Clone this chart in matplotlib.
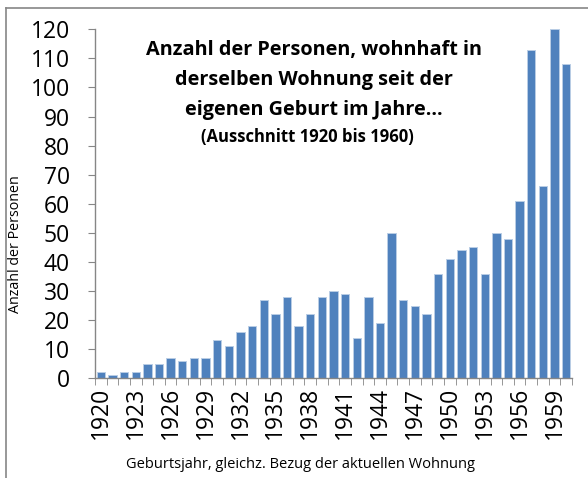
import matplotlib
matplotlib.use("Agg")
import matplotlib.pyplot as plt
from matplotlib.lines import Line2D

years = list(range(1920, 1961))
persons = [2, 1, 2, 2, 5, 5, 7, 6, 7, 7,
           13, 11, 16, 18, 27, 22, 28, 18, 22, 28,
           30, 29, 14, 28, 19, 50, 27, 25, 22, 36,
           41, 44, 45, 36, 50, 48, 61, 113, 66, 120,
           108]
label_years = years[::3]

title_lines = ["Anzahl der Personen, wohnhaft in",
               "derselben Wohnung seit der",
               "eigenen Geburt im Jahre..."]
subtitle = "(Ausschnitt 1920 bis 1960)"

plt.rcParams["font.family"] = ["Open Sans", "DejaVu Sans"]

W, H = 588, 478
fig = plt.figure(figsize=(W / 100, H / 100), dpi=100)
ax = fig.add_axes([95 / W, 1 - 378.3 / H, (572 - 95) / W, (378.3 - 29.3) / H])

pos = list(range(len(years)))
ax.bar(pos, persons, width=0.72, color="#4f81bd", edgecolor="#b9cde5", linewidth=0.7)

ax.set_xlim(-0.5, len(years) - 0.5)
ax.set_ylim(0, 120)
ax.set_yticks(range(0, 121, 10))
ax.tick_params(axis="y", labelsize=16.5, length=5, color="#868686", pad=13)

ax.set_xticks([years.index(y) for y in label_years])
ax.set_xticklabels([str(y) for y in label_years], rotation=90, fontsize=16.5)
ax.set_xticks([p - 0.5 for p in pos] + [len(years) - 0.5], minor=True)
ax.tick_params(axis="x", which="major", length=0, pad=6)
ax.tick_params(axis="x", which="minor", length=5, color="#868686")

for s in ["top", "right"]:
    ax.spines[s].set_visible(False)
for s in ["left", "bottom"]:
    ax.spines[s].set_color("#868686")
    ax.spines[s].set_linewidth(1.0)

fig.text(16 / W, 1 - 244 / H, "Anzahl der Personen", fontsize=10.3,
         rotation=90, ha="center", va="center")
fig.text(300 / W, 1 - 465 / H, "Geburtsjahr, gleichz. Bezug der aktuellen Wohnung",
         fontsize=10.5, ha="center", va="center")

for i, line in enumerate(title_lines):
    fig.text(314 / W, 1 - (50 + 30 * i) / H, line, fontsize=14.3,
             fontweight="bold", ha="center", va="center")
fig.text(307 / W, 1 - 137 / H, subtitle, fontsize=12,
         fontweight="bold", ha="center", va="center")

# chart area border (only top and left visible)
fig.add_artist(Line2D([6 / W, 6 / W], [0, 1 - 8 / H], color="#868686", lw=1.2))
fig.add_artist(Line2D([6 / W, 1], [1 - 8 / H, 1 - 8 / H], color="#868686", lw=1.2))

fig.savefig("out.png", dpi=100)
